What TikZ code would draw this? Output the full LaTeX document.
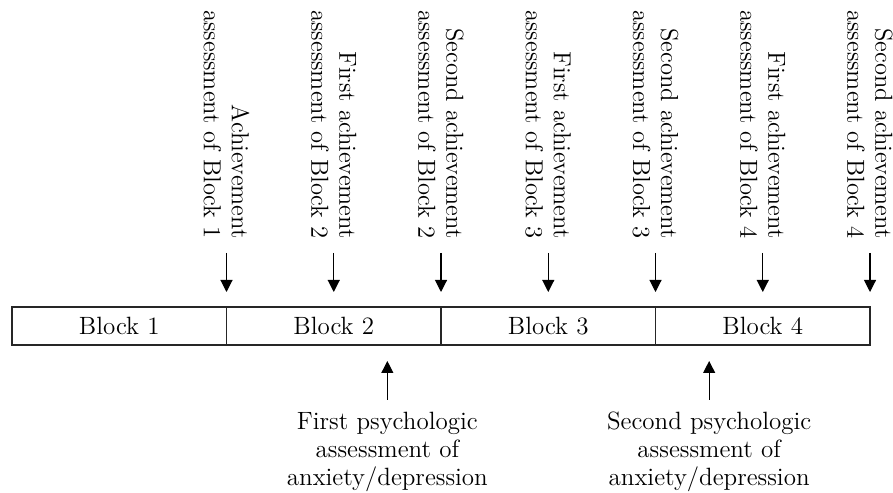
\documentclass[tikz,border=0pt]{standalone}
\usepackage{tikz}
\usetikzlibrary{
	positioning,
	arrows.meta
}
\tikzset{
	every edge/.append style={
		-{Triangle[length=6pt,width=6pt]},
		line width=0.55pt
	},
	block/.style={
		draw=black!85,
		line width=0.55pt,
		minimum width=107.25pt,
		minimum height=19pt,
		inner sep=0pt,
		outer sep=0pt,
		font=\fontsize{12.5}{14}\selectfont
	},
	tag/.style={
		rotate=-90,
		anchor=east,
		align=right,
		inner xsep=7pt,
		inner ysep=0pt,
		font=\fontsize{12.3}{14}\selectfont
	},
	note/.style={
		align=center,
		inner sep=0pt,
		outer sep=6pt,
		font=\fontsize{12.5}{14}\selectfont
	}
}

\begin{document}
\begin{tikzpicture}
		\useasboundingbox (0,0) rectangle (446.5pt,246pt);

		% the four blocks
		\draw
			node[block]                (b1) at (59.625pt,83pt) {Block 1}
			node[block,right=0pt of b1] (b2) {Block 2}
			node[block,right=0pt of b2] (b3) {Block 3}
			node[block,right=0pt of b3] (b4) {Block 4}
		;

		% tips of the arrows
		\coordinate (d1) at ([yshift=7.5pt]b1.north east);
		\coordinate (d2) at ([yshift=7.5pt]b2.north);
		\coordinate (d3) at ([yshift=7.5pt]b2.north east);
		\coordinate (d4) at ([yshift=7.5pt]b3.north);
		\coordinate (d5) at ([yshift=7.5pt]b3.north east);
		\coordinate (d6) at ([yshift=7.5pt]b4.north);
		\coordinate (d7) at ([yshift=7.5pt]b4.north east);
		\coordinate (u1) at ([xshift=26.8pt,yshift=-8pt]b2.south);
		\coordinate (u2) at ([xshift=-26.8pt,yshift=-8pt]b4.south);

		\draw
			node[tag] (l1) at ([yshift=19.5pt]d1) {Achievement\\assessment of Block 1}
			node[tag] (l2) at ([yshift=19.5pt]d2) {First achievement\\assessment of Block 2}
			node[tag] (l3) at ([yshift=19.5pt]d3) {Second achievement\\assessment of Block 2}
			node[tag] (l4) at ([yshift=19.5pt]d4) {First achievement\\assessment of Block 3}
			node[tag] (l5) at ([yshift=19.5pt]d5) {Second achievement\\assessment of Block 3}
			node[tag] (l6) at ([yshift=19.5pt]d6) {First achievement\\assessment of Block 4}
			node[tag] (l7) at ([yshift=19.5pt]d7) {Second achievement\\assessment of Block 4}

			node[note,below=19.5pt of u1] (p1) {First psychologic\\assessment of\\anxiety/depression}
			node[note,below=19.5pt of u2] (p2) {Second psychologic\\assessment of\\anxiety/depression}

			(l1.east) edge (d1)
			(l2.east) edge (d2)
			(l3.east) edge (d3)
			(l4.east) edge (d4)
			(l5.east) edge (d5)
			(l6.east) edge (d6)
			(l7.east) edge (d7)
			(p1.north) edge (u1)
			(p2.north) edge (u2)
		;
	\end{tikzpicture}
\end{document}
